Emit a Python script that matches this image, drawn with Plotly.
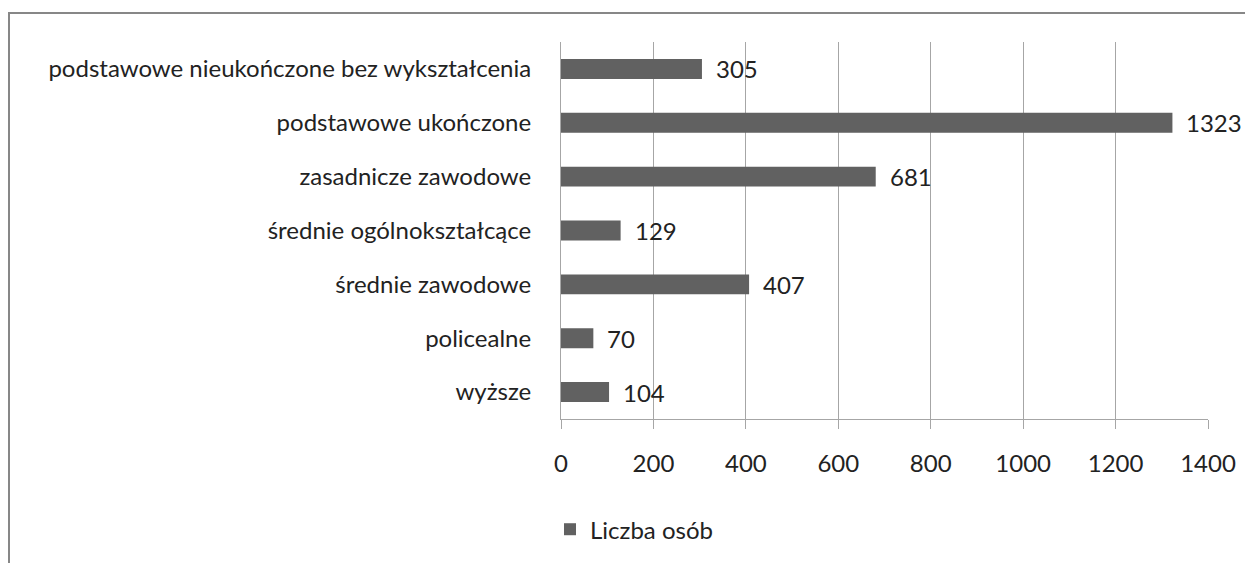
import plotly.graph_objects as go

categories = [
    "podstawowe nieukończone bez wykształcenia",
    "podstawowe ukończone",
    "zasadnicze zawodowe",
    "średnie ogólnokształcące",
    "średnie zawodowe",
    "policealne",
    "wyższe",
]
liczba_osob = [305, 1323, 681, 129, 407, 70, 104]
x_ticks = [0, 200, 400, 600, 800, 1000, 1200, 1400]

bar_color = "#616161"
grid_color = "#a6a6a6"
font_family = "Lato, 'Open Sans', sans-serif"

fig = go.Figure(go.Bar(
    x=liczba_osob,
    y=categories,
    orientation="h",
    name="Liczba osób",
    marker=dict(color=bar_color, line=dict(width=0)),
))

# value labels to the right of each bar
for cat, val in zip(categories, liczba_osob):
    fig.add_annotation(
        x=val, y=cat, text=str(val), showarrow=False,
        xanchor="left", xshift=12,
        font=dict(size=24, color="#222222", family=font_family),
    )

# chart border (Excel-style frame)
fig.add_shape(
    type="rect", xref="paper", yref="paper",
    x0=(9 - 561) / 647, x1=1.2, y0=-0.5, y1=(420 - 13) / 378,
    line=dict(color="#878787", width=2), layer="below",
)

# page body has an 8px margin, so size/margins are shifted by 8px
fig.update_layout(
    width=1245, height=555,
    margin=dict(l=553, r=45, t=34, b=143),
    paper_bgcolor="white", plot_bgcolor="white",
    font=dict(family=font_family, size=24, color="#222222"),
    bargap=0.63,
    showlegend=True,
    legend=dict(
        x=-0.017, y=-0.29, xanchor="left", yanchor="middle",
        font=dict(size=24), itemwidth=30, bgcolor="rgba(0,0,0,0)",
    ),
    xaxis=dict(
        range=[0, 1400], tickvals=x_ticks,
        showgrid=True, gridcolor=grid_color, gridwidth=1,
        showline=True, linecolor=grid_color, linewidth=1,
        ticks="outside", ticklen=9, tickcolor=grid_color,
        zeroline=False, ticklabelstandoff=14,
    ),
    yaxis=dict(
        categoryorder="array", categoryarray=categories[::-1],
        showline=True, linecolor=grid_color, linewidth=1,
        showgrid=False, ticks="", ticklabelstandoff=24,
    ),
)

fig.write_html("out.html")
